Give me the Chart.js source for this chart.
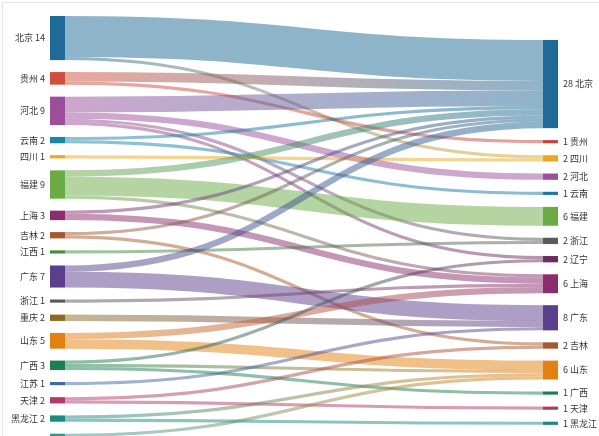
<!DOCTYPE html>
<html>
<head>
<meta charset="utf-8">
<script src="https://cdn.jsdelivr.net/npm/chart.js@4"></script>
<style>
  html, body { margin: 0; padding: 0; background: #fff; }
  #wrap { width: 599px; height: 436px; }
</style>
</head>
<body>
<div id="wrap"><canvas id="sankey" width="599" height="436"></canvas></div>
<script>
// left column (from) and right column (to)
const leftNames = ['北京','贵州','河北','云南','四川','福建','上海','吉林','江西','广东','浙江','重庆','山东','广西','江苏','天津','黑龙江','湖北'];
const leftColors = ['#1f6a96','#d0503c','#9b4f9b','#1a87aa','#e8a81e','#6aab45','#8b2d6c','#a9582c','#3d8f3d','#5b3e8c','#5a5a5a','#8a6a22','#e38012','#1a8050','#3d6aa5','#b03a6c','#1a8a82','#2a9a8a'];
const rightNames = ['北京','贵州','四川','河北','云南','福建','浙江','辽宁','上海','广东','吉林','山东','广西','天津','黑龙江','湖北'];
const rightColors = ['#1f6a96','#c8423a','#e8a81e','#9b4f9b','#1a77a8','#6aab45','#5a5a5a','#6b2d5e','#8b2d6c','#5b3e8c','#a9582c','#e38012','#1a8050','#b03a5c','#1a8a82','#2a9a8a'];

// links: index into leftNames -> index into rightNames, with value
const linkFrom  = [0,0, 1,1, 2,2,2,2, 3,3, 4, 5,5,5, 6,6, 7,7, 8, 9,9, 10, 11, 12,12, 13,13,13, 14, 15,15, 16,16, 17,17];
const linkTo    = [0,2, 0,1, 0,3,6,7, 0,4, 2, 0,5,8, 0,8, 0,10, 6, 0,9, 8, 9, 8,11, 7,11,12, 9, 10,13, 11,14, 11,15];
const linkValue = [13,1, 3,1, 5,2,1,1, 1,1, 1, 2,6,1, 1,2, 1,1, 1, 2,5, 1, 2, 2,3, 1,1,1, 1, 1,1, 1,1, 1,4];

// layout in value units
const GAP = 3.8;
const colOffset = [0, 7.6];
const NODE_W = 15;

function buildColumn(names, colors, col, key) {
  let y = colOffset[col];
  return names.map((name, i) => {
    let v = 0;
    linkValue.forEach((val, k) => { if ((key === 'from' ? linkFrom[k] : linkTo[k]) === i) v += val; });
    const n = { name, color: colors[i], col, value: v, y0: y, y1: y + v };
    y += v + GAP;
    return n;
  });
}

const leftNodes = buildColumn(leftNames, leftColors, 0, 'from');
const rightNodes = buildColumn(rightNames, rightColors, 1, 'to');

// stack links inside each node (sorted by the other end)
const links = linkValue.map((v, k) => ({ s: linkFrom[k], t: linkTo[k], v }));
leftNodes.forEach((n, i) => {
  let y = n.y0;
  links.filter(l => l.s === i).sort((a, b) => a.t - b.t).forEach(l => { l.sy = y + l.v / 2; y += l.v; });
});
rightNodes.forEach((n, i) => {
  let y = n.y0;
  links.filter(l => l.t === i).sort((a, b) => a.s - b.s).forEach(l => { l.ty = y + l.v / 2; y += l.v; });
});

function alpha(hex, a) {
  const r = parseInt(hex.slice(1,3),16), g = parseInt(hex.slice(3,5),16), b = parseInt(hex.slice(5,7),16);
  return `rgba(${r},${g},${b},${a})`;
}

const sankeyPlugin = {
  id: 'sankeyDraw',
  afterDatasetsDraw(chart) {
    const ctx = chart.ctx, xs = chart.scales.x, ys = chart.scales.y;
    const px = c => xs.getPixelForValue(c);
    const ky = Math.abs(ys.getPixelForValue(1) - ys.getPixelForValue(0));

    ctx.save();
    // frame
    ctx.strokeStyle = '#e6e6e6';
    ctx.lineWidth = 1;
    ctx.beginPath();
    ctx.moveTo(2.5, 436); ctx.lineTo(2.5, 2.5); ctx.lineTo(599, 2.5);
    ctx.stroke();

    // links, gradient from source colour to target colour
    const x0 = px(0) + NODE_W, x1 = px(1), xm = (x0 + x1) / 2;
    links.forEach(l => {
      const y0 = ys.getPixelForValue(l.sy), y1 = ys.getPixelForValue(l.ty);
      const grad = ctx.createLinearGradient(x0, 0, x1, 0);
      grad.addColorStop(0, alpha(leftNodes[l.s].color, 0.5));
      grad.addColorStop(1, alpha(rightNodes[l.t].color, 0.5));
      ctx.strokeStyle = grad;
      ctx.lineWidth = Math.max(1, l.v * ky);
      ctx.beginPath();
      ctx.moveTo(x0, y0);
      ctx.bezierCurveTo(xm, y0, xm, y1, x1, y1);
      ctx.stroke();
    });

    // nodes + labels
    ctx.font = '9px "Noto Sans CJK SC", "Noto Sans", sans-serif';
    ctx.textBaseline = 'middle';
    [...leftNodes, ...rightNodes].forEach(n => {
      const top = ys.getPixelForValue(n.y0), bot = ys.getPixelForValue(n.y1);
      const x = px(n.col);
      ctx.fillStyle = n.color;
      ctx.fillRect(x, top, NODE_W, Math.max(1.5, bot - top));
      ctx.fillStyle = '#333';
      const mid = (top + bot) / 2;
      if (n.col === 0) {
        ctx.textAlign = 'right';
        ctx.fillText(n.name + ' ' + n.value, x - 5, mid);
      } else {
        ctx.textAlign = 'left';
        ctx.fillText(n.value + ' ' + n.name, x + NODE_W + 5, mid);
      }
    });
    ctx.restore();
  }
};

new Chart(document.getElementById('sankey'), {
  type: 'scatter',
  data: {
    datasets: [{
      data: [...leftNodes, ...rightNodes].map(n => ({ x: n.col, y: (n.y0 + n.y1) / 2 })),
      pointRadius: 0
    }]
  },
  options: {
    responsive: false,
    animation: false,
    layout: { padding: 0 },
    plugins: { legend: { display: false }, tooltip: { enabled: false } },
    scales: {
      x: { type: 'linear', display: false, min: -50 / 493, max: 549 / 493 },
      y: { type: 'linear', display: false, reverse: true, min: -16 / 3.15, max: 420 / 3.15 }
    }
  },
  plugins: [sankeyPlugin]
});
</script>
</body>
</html>
